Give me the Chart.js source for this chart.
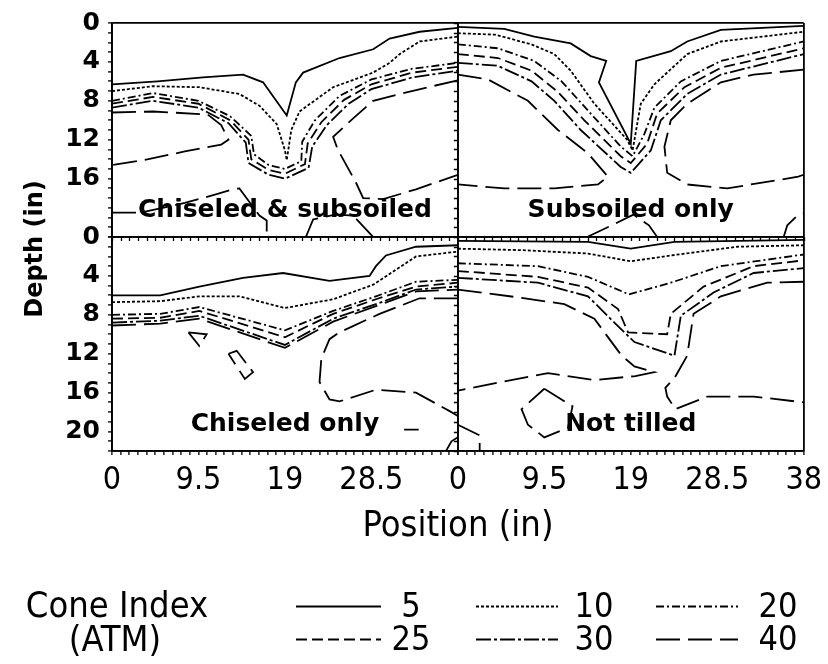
<!DOCTYPE html>
<html>
<head>
<meta charset="utf-8">
<script src="https://cdn.jsdelivr.net/npm/chart.js@4.4.1/dist/chart.umd.min.js"></script>
<style>
  html, body { margin: 0; background: #fff; }
  canvas { display: block; }
</style>
</head>
<body>
<canvas id="grafico" width="828" height="664"></canvas>
<script>
/* ============================================================
   Cone index contours – four tillage treatments
   ============================================================ */

// ── LABELS
const TREATMENTS = ['Chiseled & subsoiled', 'Subsoiled only', 'Chiseled only', 'Not tilled'];
const LEVELS = [5, 10, 20, 25, 30, 40];          // Cone Index (ATM)
const POS_LABELS_LEFT = [0, 9.5, 19, 28.5];
const POS_LABELS_RIGHT = [0, 9.5, 19, 28.5, 38];
const DEPTH_LABELS_TOP = [0, 4, 8, 12, 16];
const DEPTH_LABELS_BOTTOM = [0, 4, 8, 12, 16, 20];

// ── CONTOURS  [position (in), depth (in)]
// Chiseled & subsoiled
const cs05 = [[0,6.3],[5,6.0],[10,5.6],[14.4,5.3],[16.6,6.1],[19.2,9.5],[20.2,6.1],[21,5.1],[25,3.6],[28.7,2.7],[30.5,1.6],[33.8,0.9],[38,0.5]];
const cs10 = [[0,7.0],[4.5,6.5],[9.6,6.6],[14,7.3],[16.2,8.5],[18.1,10.4],[19,13.1],[19.2,14.1],[19.7,11.0],[20.6,9.1],[24.3,6.6],[28.7,5.1],[30.5,4.1],[31.6,3.2],[33.8,1.9],[38,1.4]];
const cs20 = [[0,8.0],[4.5,7.2],[9.5,8.0],[13,9.6],[15.3,11.6],[15.6,13.5],[17.2,14.6],[19,15.0],[20.8,14.2],[20.9,12.2],[22.3,10.0],[25,7.5],[28.5,5.8],[33,4.7],[38,4.1]];
const cs25 = [[0,8.3],[4.5,7.6],[9.5,8.3],[13,10.0],[15.0,12.0],[15.3,14.0],[17.2,15.1],[19,15.5],[21.2,14.5],[21.5,12.4],[23,10.2],[25.5,7.9],[28.5,6.3],[33,5.1],[38,4.5]];
const cs30 = [[0,8.7],[4.5,8.0],[9.5,8.7],[12.8,10.3],[14.7,12.3],[15.0,14.4],[17.2,15.6],[19,16.0],[21.6,14.9],[22.0,12.7],[23.6,10.5],[26,8.3],[28.5,6.8],[33,5.6],[38,4.9]];
const cs40a = [[0,9.2],[4.5,9.1],[10.5,9.4],[12,10.5],[12.8,12.0],[12,12.5],[8,13.2],[4,14.0],[0,14.6]];
const cs40b = [[38,5.9],[35.2,6.5],[31.6,7.3],[28.7,8.0],[26.5,9.8],[24.3,11.7],[24.8,13.0],[26.8,16.4],[27.6,18.0],[29.8,18.1],[33.4,17.1],[38,15.6]];
const cs40c = [[0,19.5],[3.1,19.5],[8,18.5],[11.5,17.6],[13.3,17.1],[14,17.0],[16.2,19.8],[17,20.3],[17,22]];
const cs40d = [[21.3,22],[22.1,20.2],[24.5,19.7],[26.5,19.8],[28.7,22]];

// Subsoiled only
const so05 = [[0,0.4],[5.1,0.6],[8.4,1.4],[12.4,2.1],[14.6,3.4],[16.3,3.9],[15.5,6.1],[19,12.4],[19.6,3.9],[23.4,2.9],[25.2,1.9],[28.9,0.7],[38,0.3]];
const so10 = [[0,1.05],[4.1,1.2],[8.1,2.2],[10.6,3.2],[12.4,4.9],[15.0,8.3],[18.6,12.0],[19.2,13.1],[20.1,8.3],[21.6,6.3],[25.2,3.2],[28.9,1.9],[38,0.9]];
const so20 = [[0,2.2],[4.4,2.6],[8.4,3.9],[11.4,6.0],[14.3,9.0],[17.9,12.7],[19.2,13.7],[20.5,11.4],[21.6,8.7],[24.5,6.0],[28.9,3.9],[38,1.9]];
const so25 = [[0,3.2],[4.4,3.6],[8.1,4.9],[11.0,7.1],[13.9,10.0],[17.9,13.7],[19.0,14.4],[20.8,12.4],[21.9,9.3],[24.9,6.6],[28.9,4.6],[38,2.6]];
const so30 = [[0,4.1],[4.4,4.4],[8.1,6.0],[10.6,8.0],[13.5,11.0],[17.9,14.8],[19.0,15.4],[21.2,13.1],[22.3,10.0],[25.2,7.3],[28.9,5.3],[38,3.2]];
const so40a = [[0,5.3],[3.3,5.8],[7.7,8.0],[11,11.0],[14.3,13.4],[16.5,15.8],[15.4,16.6],[10.6,17.0],[5.1,17.0],[0,16.6]];
const so40b = [[38,4.8],[32.5,5.3],[28.9,6.1],[25.2,8.3],[23.4,10.0],[22.7,12.7],[23,15.4],[25.2,16.6],[29.6,17.0],[37.4,15.8],[38,15.6]];
const so40c = [[14.2,22],[16.9,20.8],[19.3,19.7],[21,20.8],[21.9,22]];
const so40d = [[35.8,22],[36.2,20.8],[37.3,19.8],[38,19.6]];

// Chiseled only
const co05 = [[0,6.0],[5.3,6.0],[9.6,5.1],[14.4,4.2],[18.8,3.7],[23.9,4.5],[28.3,4.0],[29,3.0],[30.1,1.9],[33.4,1.0],[38,0.85]];
const co10 = [[0,6.7],[5.3,6.6],[9.6,6.1],[14,6.1],[19,7.3],[24.3,6.4],[28.7,4.9],[33.4,2.0],[38,1.5]];
const co20 = [[0,8.0],[5.3,7.9],[9.6,7.2],[19,9.6],[24.3,7.6],[29,6.1],[33.4,4.6],[38,4.4]];
const co25 = [[0,8.4],[5.3,8.3],[9.6,7.6],[19,10.3],[24.3,7.9],[29,6.4],[33.4,5.1],[38,4.7]];
const co30 = [[0,8.8],[5.3,8.6],[9.6,8.1],[19,11.1],[24.3,8.4],[29,6.9],[33.4,5.4],[38,5.1]];
const co40a = [[0,9.1],[5.3,8.9],[9.6,8.4],[19,11.4],[24.3,8.7],[29,7.1],[33.4,5.6],[38,5.4]];
const co40b = [[38,6.3],[33.8,6.3],[29.4,7.9],[25,9.8],[23.9,10.5],[23,12.5],[22.8,14.9],[23.9,16.7],[25,16.9],[29,15.7],[33.4,16.0],[37.1,17.9],[38,18.4]];
const co40c = [[8.4,9.8],[10.4,10.0],[9.6,11.2],[8.4,9.8]];
const co40d = [[12.8,12.0],[13.7,11.7],[15.5,13.9],[14.6,14.6],[12.8,12.0]];
const co40e = [[32.1,19.8],[33.7,19.8]];
const co40f = [[36.7,22],[37.3,21.0],[38,20.6]];

// Not tilled
const nt05 = [[0,0.4],[14.3,0.5],[19,1.2],[23.8,0.5],[38,0.3]];
const nt10 = [[0,1.2],[7,1.35],[14.3,1.7],[19,2.5],[23.4,1.9],[30.7,1.0],[38,0.85]];
const nt20 = [[0,2.7],[8.8,3.0],[14.3,4.1],[18.8,5.9],[23.4,4.7],[28.9,3.0],[38,1.8]];
const nt25 = [[0,3.5],[8.8,4.1],[14.3,5.2],[17.6,7.4],[18.7,9.8],[23,10.0],[23.4,7.9],[27,5.1],[32.5,3.0],[38,2.4]];
const nt30 = [[0,4.2],[8.8,4.7],[14.3,6.1],[17.2,8.8],[19.4,10.8],[23.8,12.2],[24.5,8.1],[28.1,5.7],[32.5,3.7],[38,3.2]];
const nt40a = [[0,5.4],[7,6.25],[11.7,6.9],[15,8.4],[18,12.2],[19.4,13.3],[21.6,13.9],[19.5,14.3],[15,14.7],[9.9,14.0],[4.8,14.9],[0,15.8]];
const nt40b = [[38,4.6],[34,4.7],[28.9,6.1],[25.9,7.9],[25.2,12.2],[23.8,14.5],[22.8,15.5],[23,16.4],[23.9,17.7],[27.4,16.4],[32.5,16.4],[38,17.0]];
const nt40c = [[9.5,15.6],[12.6,17.4],[12.1,19.6],[9.5,20.6],[7.7,19.3],[7,17.7],[9.5,15.6]];
const nt40d = [[0,19.3],[2.4,20.4],[2.4,22]];

// ── WHICH PANEL / LEVEL EACH LINE BELONGS TO
const CONTOURS = [
  ['cs', 5, cs05], ['cs', 10, cs10], ['cs', 20, cs20], ['cs', 25, cs25], ['cs', 30, cs30],
  ['cs', 40, cs40a], ['cs', 40, cs40b], ['cs', 40, cs40c], ['cs', 40, cs40d],
  ['so', 5, so05], ['so', 10, so10], ['so', 20, so20], ['so', 25, so25], ['so', 30, so30],
  ['so', 40, so40a], ['so', 40, so40b], ['so', 40, so40c], ['so', 40, so40d],
  ['co', 5, co05], ['co', 10, co10], ['co', 20, co20], ['co', 25, co25], ['co', 30, co30],
  ['co', 40, co40a], ['co', 40, co40b], ['co', 40, co40c], ['co', 40, co40d], ['co', 40, co40e], ['co', 40, co40f],
  ['nt', 5, nt05], ['nt', 10, nt10], ['nt', 20, nt20], ['nt', 25, nt25], ['nt', 30, nt30],
  ['nt', 40, nt40a], ['nt', 40, nt40b], ['nt', 40, nt40c], ['nt', 40, nt40d],
];

// ── STYLE
const INK = '#000';
const PANELS = {
  cs: { x: 'xL', y: 'yT' }, so: { x: 'xR', y: 'yT' },
  co: { x: 'xL', y: 'yB' }, nt: { x: 'xR', y: 'yB' }
};
const PANEL_ORDER = ['cs', 'so', 'co', 'nt'];
const DASH = { 5: [], 10: [3, 2], 20: [8, 3, 2, 3], 25: [11, 5], 30: [15, 3, 3, 3], 40: [24, 8] };
const FONT_MAIN = '"DejaVu Sans", sans-serif';
const FONT_NARROW = '"DejaVu Sans Condensed", "Liberation Sans Narrow", "DejaVu Sans", sans-serif';

// minor ticks: every 0.95 in along position, every 1 in along depth
const X_TICKS = Array.from({ length: 41 }, (_, i) => Math.round(i * 95) / 100);
const Y_TICKS = Array.from({ length: 23 }, (_, i) => i);

// ── HELPERS
function frameOnly(max) {
  return c => (c.tick && (c.tick.value === 0 || c.tick.value === max)) ? INK : 'rgba(0,0,0,0)';
}

function posAxis(labels) {
  return {
    type: 'linear', position: 'bottom', stack: 'pos', stackWeight: 1,
    min: 0, max: 38,
    afterBuildTicks: s => { s.ticks = X_TICKS.map(v => ({ value: v })); },
    afterFit: s => { s.height = 40; },
    grid: { color: frameOnly(38), lineWidth: 1.8, tickLength: 4, tickColor: INK, tickWidth: 1.3 },
    border: { display: true, color: INK, width: 1.8 },
    ticks: {
      autoSkip: false, maxRotation: 0, padding: 6, color: INK,
      font: { family: FONT_NARROW, size: 32 },
      callback: v => labels.includes(v) ? String(v) : ''
    }
  };
}

function depthAxis(labels) {
  return {
    type: 'linear', position: 'left', stack: 'dep', stackWeight: 1,
    reverse: true, min: 0, max: 22,
    afterBuildTicks: s => { s.ticks = Y_TICKS.map(v => ({ value: v })); },
    afterFit: s => { s.width = 112; },
    grid: { color: frameOnly(22), lineWidth: 1.8, tickLength: 4, tickColor: INK, tickWidth: 1.3 },
    border: { display: true, color: INK, width: 1.8 },
    ticks: {
      autoSkip: false, padding: 8, color: INK,
      font: { family: FONT_MAIN, size: 25, weight: 'bold' },
      callback: v => labels.includes(v) ? String(v) : ''
    }
  };
}

// ── DECORATION: inner ticks, panel names, axis titles, legend
const decor = {
  id: 'decor',
  afterDraw(chart) {
    const { ctx } = chart;
    const { xL, xR, yT, yB } = chart.scales;
    ctx.save();

    // ticks of the top panels' bottom axis and the right panels' left axis
    ctx.strokeStyle = INK;
    ctx.lineWidth = 1.3;
    ctx.beginPath();
    const yMid = yT.bottom;
    [xL, xR].forEach(s => s.ticks.forEach(t => {
      const px = Math.round(s.getPixelForValue(t.value)) + 0.5;
      ctx.moveTo(px, yMid); ctx.lineTo(px, yMid + 4);
    }));
    const xMid = xR.left;
    [yT, yB].forEach(s => s.ticks.forEach(t => {
      const py = Math.round(s.getPixelForValue(t.value)) + 0.5;
      ctx.moveTo(xMid - 4, py); ctx.lineTo(xMid, py);
    }));
    ctx.stroke();

    // panel names
    ctx.fillStyle = INK;
    ctx.textAlign = 'center';
    ctx.textBaseline = 'middle';
    ctx.font = `bold 25px ${FONT_MAIN}`;
    PANEL_ORDER.forEach((p, i) => {
      const sx = chart.scales[PANELS[p].x], sy = chart.scales[PANELS[p].y];
      ctx.fillText(TREATMENTS[i], sx.getPixelForValue(19), sy.getPixelForValue(19.3));
    });

    // axis titles
    ctx.save();
    ctx.translate(36, 249);
    ctx.rotate(-Math.PI / 2);
    ctx.font = `bold 24px ${FONT_MAIN}`;
    ctx.fillText('Depth (in)', 0, 0);
    ctx.restore();
    ctx.font = `36px ${FONT_NARROW}`;
    ctx.fillText('Position (in)', 458, 527);

    // legend
    ctx.font = `36px ${FONT_NARROW}`;
    ctx.fillText('Cone Index', 117, 608);
    ctx.fillText('(ATM)', 115, 642);
    ctx.font = `34px ${FONT_NARROW}`;
    const cols = [[296, 381, 411], [476, 558, 594], [656, 738, 778]];
    const rows = [606, 639];
    LEVELS.forEach((lvl, i) => {
      const [x1, x2, xt] = cols[i % 3];
      const y = rows[Math.floor(i / 3)];
      ctx.setLineDash(DASH[lvl]);
      ctx.lineWidth = 1.8;
      ctx.beginPath();
      ctx.moveTo(x1, y + 0.5); ctx.lineTo(x2, y + 0.5);
      ctx.stroke();
      ctx.setLineDash([]);
      ctx.fillText(String(lvl), xt, y + 2);
    });
    ctx.restore();
  }
};

// ── DATASETS
const datasets = CONTOURS.map(([p, lvl, pts]) => ({
  label: `${p} ${lvl}`,
  data: pts.map(([x, y]) => ({ x, y })),
  xAxisID: PANELS[p].x,
  yAxisID: PANELS[p].y,
  showLine: true,
  borderColor: INK,
  borderWidth: 1.8,
  borderDash: DASH[lvl],
  pointRadius: 0,
  tension: 0,
  fill: false
}));

// ── INIT  (left-side stacked axes are laid out last-first, so the bottom panel comes first here)
new Chart(document.getElementById('grafico'), {
  type: 'scatter',
  data: { datasets },
  options: {
    responsive: false,
    animation: false,
    devicePixelRatio: 1,
    layout: { padding: { left: 0, top: 18, right: 23, bottom: 173 } },
    plugins: { legend: { display: false }, tooltip: { enabled: false } },
    scales: {
      xL: posAxis(POS_LABELS_LEFT),
      xR: posAxis(POS_LABELS_RIGHT),
      yB: depthAxis(DEPTH_LABELS_BOTTOM),
      yT: depthAxis(DEPTH_LABELS_TOP)
    }
  },
  plugins: [decor]
});
</script>
</body>
</html>
